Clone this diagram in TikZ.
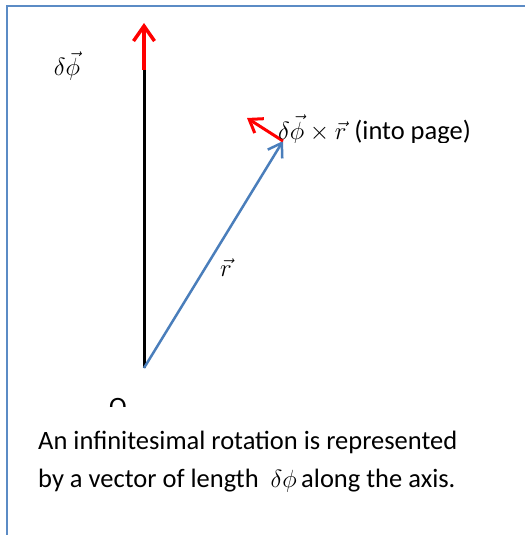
\documentclass[tikz,border=0pt]{standalone}
\usepackage{fontspec}
\setmainfont{Carlito}
\usetikzlibrary{arrows.meta}
\definecolor{frameblue}{HTML}{5B8BC5}
\definecolor{vecblue}{HTML}{4A7EBB}
\begin{document}
\begin{tikzpicture}[x=1pt,y=-1pt,
  frame/.style={draw=frameblue,line width=2pt},
  axisline/.style={draw=black,line width=3pt},
  redvec/.style={draw=red,line width=3.5pt,-{Straight Barb[length=15pt,width=21pt]}},
  smallred/.style={draw=red,line width=3pt,-{Straight Barb[length=12pt,width=17pt]}},
  bluevec/.style={draw=vecblue,line width=2.5pt,-{Straight Barb[length=13pt,width=17pt]}},
  lbl/.style={inner sep=0pt,font=\fontsize{26.5}{38}\selectfont},
  mlbl/.style={inner sep=0pt,font=\fontsize{30}{34}\selectfont}]
\useasboundingbox (0,0) rectangle (525,535);
\fill[white] (0,0) rectangle (525,535);
% frame (cut off at right and bottom)
\coordinate (fbl) at (7,535);
\coordinate (ftl) at (7,6);
\coordinate (ftr) at (525,6);
\draw[frame] (fbl) -- (ftl) -- (ftr);
% points
\coordinate (O) at (144,368);
\coordinate (axtop) at (144,70);
\coordinate (axtip) at (144,23);
\coordinate (P) at (283,141);
\coordinate (Q) at (247,118);
% axis and vectors
\draw[axisline] (O) -- (axtop);
\draw[redvec] (axtop) -- (axtip);
\draw[bluevec] (O) -- (P);
\draw[smallred] (P) -- (Q);
% labels
\node[inner sep=0pt,font=\fontsize{34}{38}\selectfont] (dphi) at (67,66) {$\delta\vec{\phi}$};
\node[mlbl] (rlab) at (226,268) {$\vec{r}$};
\begin{scope}
\clip (270,95) rectangle (525,142);
\node[lbl,anchor=base west] (cross) at (278,139) {{\fontsize{29}{34}\selectfont$\delta\vec{\phi}\times\vec{r}$}\hspace{8pt}(into page)};
\end{scope}
\begin{scope}
\clip (90,380) rectangle (150,406);
\node[lbl,anchor=base west] (Olab) at (109,415) {O};
\end{scope}
\node[lbl,anchor=base west] (line1) at (38,449) {An infinitesimal rotation is represented};
\node[lbl,anchor=base west] (line2) at (38,487) {by a vector of length \ {\fontsize{32}{34}\selectfont$\delta\phi$}\,along the axis.};
\end{tikzpicture}
\end{document}
